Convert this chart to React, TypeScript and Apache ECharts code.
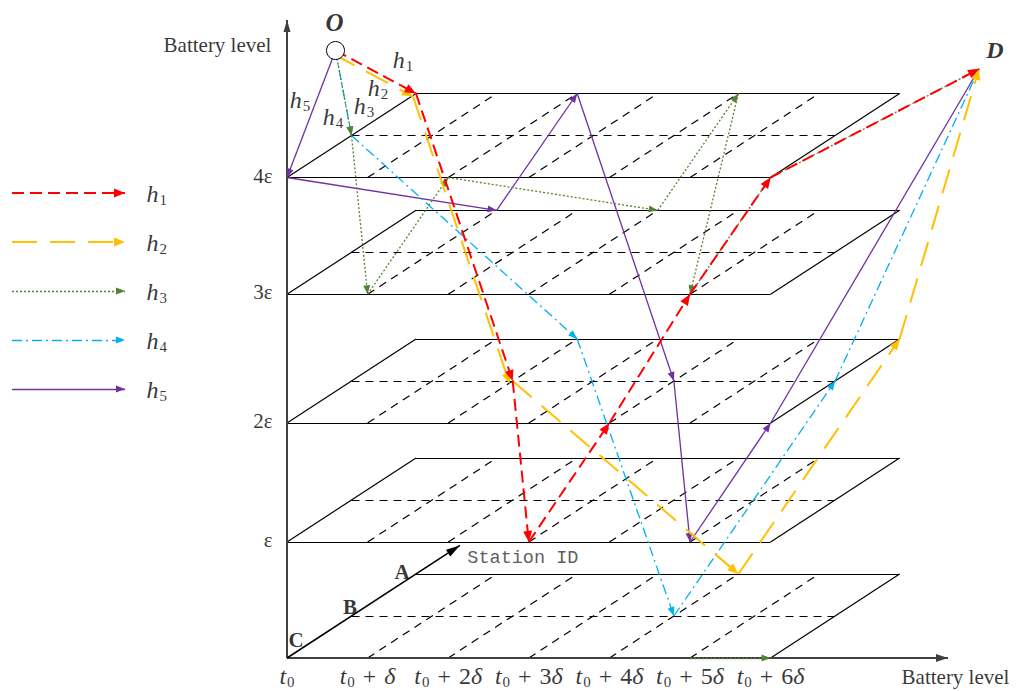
import React, { useEffect, useRef } from "react";
import * as echarts from "echarts";

// ---------------- data ----------------
const timeTickLabels = ["t0", "t0 + δ", "t0 + 2δ", "t0 + 3δ", "t0 + 4δ", "t0 + 5δ", "t0 + 6δ"];
const levelLabels = ["", "ε", "2ε", "3ε", "4ε"];
const stationLabels = ["C", "B", "A"];
const axisTitleY = "Battery level";
const axisTitleX = "Battery level";
const stationAxisTitle = "Station ID";
const originName = "O";
const destName = "D";
const routeNames = ["h1", "h2", "h3", "h4", "h5"];

// nodes: [time step, station index (0=C,1=B,2=A), battery level index]
type Node = "O" | "D" | [number, number, number];
const routeH1: Node[] = ["O", [0, 2, 4], [2, 1, 2], [3, 0, 1], [4, 0, 2], [5, 0, 3], [6, 0, 4], "D"];
const routeH2: Node[] = ["O", [0, 2, 4], [2, 1, 2], [4, 2, 0], [6, 2, 2], "D"];
const routeH3: Node[] = ["O", [0, 1, 4], [1, 0, 3], [2, 0, 4], [3, 2, 3], [4, 2, 4], [5, 0, 3], [6, 0, 4], "D"];
const routeH3Extra: Node[] = [[5, 0, 0], [6, 0, 0]];
const routeH4: Node[] = ["O", [0, 1, 4], [2, 2, 2], [4, 1, 0], [6, 1, 2], "D"];
const routeH5: Node[] = ["O", [0, 0, 4], [1, 2, 3], [2, 2, 4], [4, 1, 2], [5, 0, 1], [6, 0, 2], "D"];

// ---------------- layout ----------------
const W = 1016;
const H = 691;
const X0 = 287;
const DT = 80.6;
const SX = 64.5;
const SY = 42;
const LEVEL_Y = [658, 542, 423, 294.3, 177.5];
const O_PT = [335.5, 50.5];
const D_PT = [979, 69];
const AXIS_TOP = 20;
const AXIS_RIGHT = 948;
const STATION_AXIS_END = 2.68;
const LEG_X = [12, 125];
const LEG_Y0 = 193;
const LEG_STEP = 49;
const ROUTE_LABEL_POS = [
  [403, 60],
  [378, 88],
  [364, 106],
  [333, 117],
  [300, 100],
];
const H2_SHIFT = { segments: 2, dx: -3, dy: 3 };

const ARROW = "path://M5,0L5,0M5,12L10,24L0,24Z";

const ROUTE_STYLES: any[] = [
  { color: "#FF0000", width: 2, type: [12, 6], arrow: [9, 22] },
  { color: "#FFC000", width: 2, type: [25, 13], arrow: [9, 22] },
  { color: "#548235", width: 1.3, type: [2, 2], arrow: [7, 18] },
  { color: "#00B0F0", width: 1.3, type: [10, 4, 2, 4], arrow: [7, 18] },
  { color: "#7030A0", width: 1.3, type: "solid", arrow: [7, 18] },
];

const SERIF = "Liberation Serif";

function project(n: Node): number[] {
  if (n === "O") return O_PT;
  if (n === "D") return D_PT;
  const [t, s, l] = n;
  return [X0 + DT * t + SX * s, LEVEL_Y[l] - SY * s];
}

function routeSegments(route: Node[], shift?: { segments: number; dx: number; dy: number }) {
  const segs: number[][][] = [];
  for (let i = 0; i < route.length - 1; i++) {
    let a = project(route[i]);
    let b = project(route[i + 1]);
    if (shift && i < shift.segments) {
      a = [a[0] + shift.dx, a[1] + shift.dy];
      b = [b[0] + shift.dx, b[1] + shift.dy];
    }
    segs.push([a, b]);
  }
  return segs;
}

function lineSeries(segs: number[][][], style: any, z: number, arrow?: number[]) {
  return {
    type: "lines",
    coordinateSystem: "cartesian2d",
    polyline: false,
    silent: true,
    z,
    symbol: arrow ? ["none", ARROW] : ["none", "none"],
    symbolSize: arrow ? [0, arrow] : [0, 0],
    lineStyle: { color: style.color, width: style.width, type: style.type, opacity: 1, cap: "butt" },
    data: segs.map((c) => ({ coords: c })),
  };
}

function toRich(label: string): string {
  const out: string[] = [];
  let i = 0;
  while (i < label.length) {
    const c = label[i];
    if (/[a-zδ]/.test(c)) {
      out.push(`{i|${c}}`);
      if (c !== "δ" && /\d/.test(label[i + 1] ?? "")) {
        out.push(`{s|${label[i + 1]}}`);
        i += 2;
        continue;
      }
    } else if (c === "+") out.push("{o|+}");
    else if (/\d/.test(c)) out.push(`{n|${c}}`);
    i++;
  }
  return out.join("");
}

const MATH_RICH = {
  i: { fontFamily: SERIF, fontStyle: "italic", fontSize: 24, color: "#000" },
  s: { fontFamily: SERIF, fontSize: 15, padding: [11, 0, 0, 1], color: "#000" },
  o: { fontFamily: SERIF, fontSize: 24, padding: [0, 8, 0, 8], color: "#000" },
  n: { fontFamily: SERIF, fontSize: 24, color: "#000" },
};

function textItem(x: number, y: number, label: any) {
  return {
    value: [x, y],
    label: Object.assign({ show: true, position: "inside", color: "#000" }, label),
  };
}

export default function App() {
  const ref = useRef<HTMLDivElement>(null);
  useEffect(() => {
    document.body.style.margin = "0";
    if (!ref.current) return;
    const chart = echarts.init(ref.current, undefined, { renderer: "svg" });

    // layer planes
    const solid: number[][][] = [];
    const dashed: number[][][] = [];
    const nT = timeTickLabels.length - 1;
    const nS = stationLabels.length - 1;
    for (let l = 0; l < levelLabels.length; l++) {
      if (l > 0) {
        solid.push([project([0, 0, l]), project([nT, 0, l])]);
        solid.push([project([0, 0, l]), project([0, nS, l])]);
      }
      solid.push([project([0, nS, l]), project([nT, nS, l])]);
      solid.push([project([nT, 0, l]), project([nT, nS, l])]);
      for (let s = 1; s < nS; s++) dashed.push([project([0, s, l]), project([nT, s, l])]);
      for (let t = 1; t < nT; t++) dashed.push([project([t, 0, l]), project([t, nS, l])]);
    }

    const origin = project([0, 0, 0]);
    const stationEnd = [X0 + SX * STATION_AXIS_END, LEVEL_Y[0] - SY * STATION_AXIS_END];

    const routes = [routeH1, routeH2, routeH3, routeH4, routeH5];
    const routeSeries: any[] = [];
    routes.forEach((r, i) => {
      const segs = routeSegments(r, i === 1 ? H2_SHIFT : undefined);
      if (i === 2) segs.push(...routeSegments(routeH3Extra));
      routeSeries.push(lineSeries(segs, ROUTE_STYLES[i], 20 - i, ROUTE_STYLES[i].arrow));
    });
    const legendSeries = ROUTE_STYLES.map((st, i) =>
      lineSeries([[[LEG_X[0], LEG_Y0 + i * LEG_STEP], [LEG_X[1], LEG_Y0 + i * LEG_STEP]]], st, 20, st.arrow)
    );

    // texts
    const texts: any[] = [];
    texts.push(textItem(217.5, 45, { formatter: axisTitleY, fontFamily: SERIF, fontSize: 21 }));
    texts.push(textItem(955.5, 677, { formatter: axisTitleX, fontFamily: SERIF, fontSize: 21 }));
    timeTickLabels.forEach((lab, t) => {
      texts.push(textItem(project([t, 0, 0])[0], 676, { formatter: toRich(lab), rich: MATH_RICH }));
    });
    levelLabels.forEach((lab, l) => {
      if (!lab) return;
      texts.push(
        textItem(X0, LEVEL_Y[l] - 2, { formatter: lab, position: "left", distance: 14, fontFamily: SERIF, fontSize: 21 })
      );
    });
    const stationOffsets = [
      [9, -18],
      [-1.5, -9],
      [-14, -2],
    ];
    stationLabels.forEach((lab, s) => {
      const p = project([0, s, 0]);
      texts.push(
        textItem(p[0] + stationOffsets[s][0], p[1] + stationOffsets[s][1], {
          formatter: lab,
          fontFamily: SERIF,
          fontWeight: "bold",
          fontSize: 21,
        })
      );
    });
    texts.push(
      textItem(stationEnd[0] + 7, stationEnd[1] + 13, {
        formatter: stationAxisTitle,
        position: "right",
        distance: 0,
        fontFamily: "Liberation Mono",
        fontSize: 18.5,
        color: "#333",
      })
    );
    texts.push(
      textItem(O_PT[0] - 1, 22, { formatter: originName, fontFamily: SERIF, fontStyle: "italic", fontWeight: "bold", fontSize: 25 })
    );
    texts.push(
      textItem(D_PT[0] + 16, 50, { formatter: destName, fontFamily: SERIF, fontStyle: "italic", fontWeight: "bold", fontSize: 24 })
    );
    routeNames.forEach((nm, i) => {
      texts.push(textItem(ROUTE_LABEL_POS[i][0], ROUTE_LABEL_POS[i][1], { formatter: toRich(nm), rich: MATH_RICH }));
      texts.push(
        textItem(146, LEG_Y0 + i * LEG_STEP + 1, { formatter: toRich(nm), rich: MATH_RICH, position: "right", distance: 0 })
      );
    });

    chart.setOption({
      animation: false,
      grid: { left: 0, right: 0, top: 0, bottom: 0 },
      xAxis: { type: "value", min: 0, max: W, show: false },
      yAxis: { type: "value", min: 0, max: H, inverse: true, show: false },
      series: [
        lineSeries(solid, { color: "#000", width: 1.2, type: "solid" }, 1),
        lineSeries(dashed, { color: "#000", width: 1.2, type: [8, 6] }, 1),
        lineSeries([[origin, [X0, AXIS_TOP]]], { color: "#404040", width: 2, type: "solid" }, 2, [7, 24]),
        lineSeries([[origin, [AXIS_RIGHT, LEVEL_Y[0]]]], { color: "#404040", width: 2, type: "solid" }, 2, [8, 24]),
        lineSeries([[origin, stationEnd]], { color: "#000", width: 1.5, type: "solid" }, 2, [8, 28]),
        ...routeSeries,
        ...legendSeries,
        {
          type: "scatter",
          silent: true,
          z: 30,
          symbol: "circle",
          symbolSize: 18,
          itemStyle: { color: "#fff", borderColor: "#000", borderWidth: 1, opacity: 1 },
          data: [O_PT],
        },
        {
          type: "scatter",
          silent: true,
          z: 31,
          symbol: "circle",
          symbolSize: 1,
          itemStyle: { color: "rgba(0,0,0,0)" },
          data: texts,
        },
      ],
    });
    return () => chart.dispose();
  }, []);
  return <div ref={ref} style={{ width: W, height: H }} />;
}
